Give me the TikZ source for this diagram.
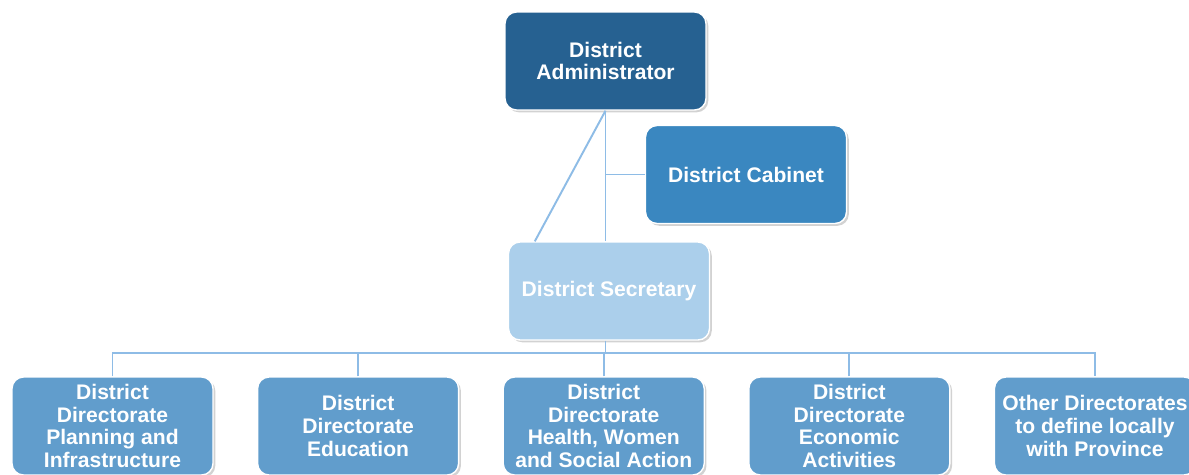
\documentclass[tikz,border=0pt]{standalone}
\usepackage{fontspec}
\setsansfont{Liberation Sans}
\usetikzlibrary{positioning,shadows}
\definecolor{adminblue}{RGB}{38,97,145}
\definecolor{cabinetblue}{RGB}{58,135,192}
\definecolor{secretblue}{RGB}{171,207,235}
\definecolor{dirblue}{RGB}{97,157,204}
\definecolor{linkblue}{RGB}{142,188,230}
\tikzset{
  orgbox/.style={draw=white, line width=0.8pt, rounded corners=6.5pt, align=center, inner sep=0pt, minimum width=4.02cm, minimum height=1.96cm, text=white, font=\sffamily\bfseries\fontsize{12}{13}\selectfont, drop shadow={shadow xshift=1.3pt, shadow yshift=-1.3pt, opacity=0.35}},
  adminbox/.style={orgbox, fill=adminblue},
  cabinetbox/.style={orgbox, fill=cabinetblue},
  secretbox/.style={orgbox, fill=secretblue},
  dirbox/.style={orgbox, fill=dirblue},
  link/.style={draw=linkblue, line width=1.1pt}
}

\begin{document}
\begin{tikzpicture}[x=0.02cm, y=-0.02cm, node distance=0.865cm]
\fill[white] (0,0) rectangle (1189,474);
\clip (0,0) rectangle (1189,474);
\node[adminbox] (admin) at (605.5,61) {District\\Administrator};
\node[cabinetbox] (cabinet) at (746,174.5) {District Cabinet};
\node[secretbox] (secretary) at (609,291) {District Secretary};
\node[dirbox] (dplan) at (112.5,426) {District\\Directorate\\Planning and\\Infrastructure};
\node[dirbox, right=of dplan] (dedu) {District\\Directorate\\Education};
\node[dirbox, right=of dedu] (dhealth) {District\\Directorate\\Health, Women\\and Social Action};
\node[dirbox, right=of dhealth] (decon) {District\\Directorate\\Economic\\Activities};
\node[dirbox, right=of decon] (dother) {Other Directorates\\to define locally\\with Province};
\coordinate (bus) at (605.5,353);
% links from the administrator
\draw[link] (admin.south) -- (admin.south |- secretary.north);
\draw[link] (admin.south) -- ([xshift=0.54cm]secretary.north west);
\draw[link] (admin.south |- cabinet.west) -- (cabinet.west);
% secretary to the directorates
\draw[link] (admin.south |- secretary.south) -- (bus);
\draw[link] (dplan.north) |- (bus) -| (dother.north);
\foreach \d in {dedu,dhealth,decon}
  \draw[link] (\d.north) -- (\d.north |- bus);
\end{tikzpicture}
\end{document}
